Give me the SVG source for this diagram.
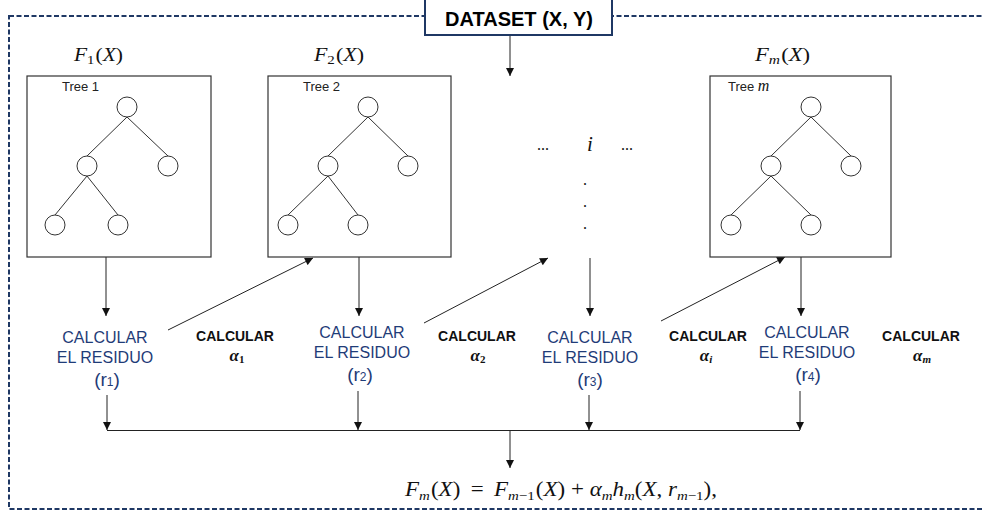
<svg xmlns="http://www.w3.org/2000/svg" width="982" height="512" viewBox="0 0 982 512">
  <style>
    .frame { fill: none; stroke: #1f3864; stroke-width: 2; stroke-dasharray: 5 2.5; }
    .ds-box { fill: #ffffff; stroke: #1f3864; stroke-width: 2; }
    .ds-text { font-family: "Liberation Sans", Arial, sans-serif; font-weight: bold; font-size: 20px; fill: #000; }
    .tree-box { fill: #ffffff; stroke: #333; stroke-width: 1.2; }
    .tnode { fill: #ffffff; stroke: #333; stroke-width: 1; }
    .tedge { stroke: #333; stroke-width: 1; fill: none; }
    .tlabel { font-family: "Liberation Sans", Arial, sans-serif; font-size: 13px; fill: #222; }
    .math { font-family: "Liberation Serif", "Times New Roman", serif; fill: #111; }
    .it { font-style: italic; }
    .res { font-family: "Liberation Sans", Arial, sans-serif; font-size: 16px; fill: #1f3c78; text-anchor: middle; }
    .res-id { font-family: "Liberation Sans", Arial, sans-serif; font-size: 19px; fill: #1f3c78; text-anchor: middle; }
    .alpha-t { font-family: "Liberation Sans", Arial, sans-serif; font-weight: bold; font-size: 14px; fill: #111; text-anchor: middle; }
    .alpha-m { font-family: "Liberation Serif", "Times New Roman", serif; font-weight: bold; font-style: italic; font-size: 17px; fill: #111; text-anchor: middle; }
    .conn { stroke: #222; stroke-width: 1; fill: none; }
    .conn-a { stroke: #222; stroke-width: 1; fill: none; marker-end: url(#arrow); }
    .dots { font-family: "Liberation Serif", "Times New Roman", serif; font-size: 16px; fill: #111; text-anchor: middle; }
  </style>
  <defs>
    <marker id="arrow" viewBox="0 0 10 10" refX="10" refY="5" markerWidth="9" markerHeight="8" markerUnits="userSpaceOnUse" orient="auto">
      <path d="M0,0 L10,5 L0,10 z" fill="#111"/>
    </marker>
    <!-- one decision tree, drawn at the origin of its box -->
    <g id="treeShape">
      <rect class="tree-box" x="0" y="0" width="184" height="181"/>
      <line class="tedge" x1="100" y1="41" x2="60" y2="80"/>
      <line class="tedge" x1="100" y1="41" x2="141" y2="80"/>
      <line class="tedge" x1="60" y1="100" x2="28" y2="139"/>
      <line class="tedge" x1="60" y1="100" x2="91" y2="139"/>
      <circle class="tnode" cx="100" cy="31" r="10"/>
      <circle class="tnode" cx="60" cy="90" r="10"/>
      <circle class="tnode" cx="141" cy="90" r="10"/>
      <circle class="tnode" cx="28" cy="149" r="10"/>
      <circle class="tnode" cx="91" cy="149" r="10"/>
    </g>
  </defs>

  <rect width="982" height="512" fill="#ffffff"/>

  <!-- dashed outer frame -->
  <rect class="frame" x="9" y="16" width="990" height="493"/>

  <!-- connectors -->
  <g id="connectors">
    <line class="conn-a" x1="510" y1="35" x2="510" y2="76"/>
    <line class="conn-a" x1="106" y1="257" x2="106" y2="316"/>
    <line class="conn-a" x1="359" y1="257" x2="359" y2="316"/>
    <line class="conn-a" x1="590" y1="258" x2="590" y2="316"/>
    <line class="conn-a" x1="801" y1="257" x2="801" y2="316"/>
    <line class="conn-a" x1="168" y1="330" x2="313" y2="258"/>
    <line class="conn-a" x1="424" y1="323" x2="548" y2="258"/>
    <line class="conn-a" x1="661" y1="321" x2="785" y2="257"/>
    <line class="conn-a" x1="107" y1="395" x2="107" y2="430"/>
    <line class="conn-a" x1="358" y1="391" x2="358" y2="430"/>
    <line class="conn-a" x1="589" y1="395" x2="589" y2="430"/>
    <line class="conn-a" x1="800" y1="391" x2="800" y2="430"/>
    <line class="conn" x1="107" y1="430.5" x2="800" y2="430.5" stroke-width="1.6"/>
    <line class="conn-a" x1="510" y1="431" x2="510" y2="468"/>
  </g>

  <!-- dataset source -->
  <g id="dataset">
    <rect class="ds-box" x="425" y="-2" width="187" height="37"/>
    <text class="ds-text" x="519" y="26" text-anchor="middle">DATASET (X, Y)</text>
  </g>

  <!-- tree 1 -->
  <g id="tree1">
    <text class="math" x="74" y="61" font-size="19" textLength="49" lengthAdjust="spacingAndGlyphs"><tspan class="it">F</tspan><tspan font-size="13" dy="3">1</tspan><tspan dx="1" dy="-3">(</tspan><tspan class="it">X</tspan><tspan>)</tspan></text>
    <use href="#treeShape" x="27" y="76"/>
    <text class="tlabel" x="62" y="91">Tree 1</text>
  </g>

  <!-- tree 2 -->
  <g id="tree2">
    <text class="math" x="314" y="61" font-size="19" textLength="50" lengthAdjust="spacingAndGlyphs"><tspan class="it">F</tspan><tspan font-size="13" dy="3">2</tspan><tspan dx="1" dy="-3">(</tspan><tspan class="it">X</tspan><tspan>)</tspan></text>
    <rect class="tree-box" x="268" y="76" width="183" height="181"/>
    <line class="tedge" x1="368" y1="117" x2="328" y2="156"/>
    <line class="tedge" x1="368" y1="117" x2="408" y2="156"/>
    <line class="tedge" x1="328" y1="176" x2="288" y2="215"/>
    <line class="tedge" x1="328" y1="176" x2="358" y2="215"/>
    <circle class="tnode" cx="368" cy="107" r="10"/>
    <circle class="tnode" cx="328" cy="166" r="10"/>
    <circle class="tnode" cx="408" cy="166" r="10"/>
    <circle class="tnode" cx="288" cy="225" r="10"/>
    <circle class="tnode" cx="358" cy="225" r="10"/>
    <text class="tlabel" x="303" y="91">Tree 2</text>
  </g>

  <!-- intermediate trees -->
  <g id="tree-i">
    <text class="dots" x="543" y="150">...</text>
    <text class="math it" x="590" y="151" font-size="21" text-anchor="middle">i</text>
    <text class="dots" x="627" y="150">...</text>
    <text class="dots" x="585" y="185">.</text>
    <text class="dots" x="585" y="207">.</text>
    <text class="dots" x="585" y="229">.</text>
  </g>

  <!-- tree m -->
  <g id="treem">
    <text class="math" x="755" y="61" font-size="19" textLength="55" lengthAdjust="spacingAndGlyphs"><tspan class="it">F</tspan><tspan class="it" font-size="13" dy="3">m</tspan><tspan dx="1" dy="-3">(</tspan><tspan class="it">X</tspan><tspan>)</tspan></text>
    <rect class="tree-box" x="710" y="76" width="181" height="181"/>
    <line class="tedge" x1="811" y1="117" x2="771" y2="156"/>
    <line class="tedge" x1="811" y1="117" x2="851" y2="156"/>
    <line class="tedge" x1="771" y1="176" x2="731" y2="215"/>
    <line class="tedge" x1="771" y1="176" x2="811" y2="215"/>
    <circle class="tnode" cx="811" cy="107" r="10"/>
    <circle class="tnode" cx="771" cy="166" r="10"/>
    <circle class="tnode" cx="851" cy="166" r="10"/>
    <circle class="tnode" cx="731" cy="225" r="10"/>
    <circle class="tnode" cx="811" cy="225" r="10"/>
    <text class="tlabel" x="728" y="91">Tree <tspan class="math it" font-size="16">m</tspan></text>
  </g>

  <!-- residual steps -->
  <g id="res1">
    <text class="res" x="105" y="343">CALCULAR</text>
    <text class="res" x="105" y="363">EL RESIDUO</text>
    <text class="res-id" x="107" y="386">(r<tspan font-size="12">1</tspan>)</text>
  </g>
  <g id="res2">
    <text class="res" x="362" y="338">CALCULAR</text>
    <text class="res" x="362" y="358">EL RESIDUO</text>
    <text class="res-id" x="360" y="381">(r<tspan font-size="12">2</tspan>)</text>
  </g>
  <g id="res3">
    <text class="res" x="590" y="343">CALCULAR</text>
    <text class="res" x="590" y="363">EL RESIDUO</text>
    <text class="res-id" x="590" y="386">(r<tspan font-size="12">3</tspan>)</text>
  </g>
  <g id="res4">
    <text class="res" x="807" y="338">CALCULAR</text>
    <text class="res" x="807" y="358">EL RESIDUO</text>
    <text class="res-id" x="808" y="381">(r<tspan font-size="12">4</tspan>)</text>
  </g>

  <!-- weight steps -->
  <g id="alpha1">
    <text class="alpha-t" x="235" y="341">CALCULAR</text>
    <text class="alpha-m" x="237" y="361">α<tspan font-size="11" font-style="normal" dy="2">1</tspan></text>
  </g>
  <g id="alpha2">
    <text class="alpha-t" x="477" y="341">CALCULAR</text>
    <text class="alpha-m" x="478" y="361">α<tspan font-size="11" font-style="normal" dy="2">2</tspan></text>
  </g>
  <g id="alphai">
    <text class="alpha-t" x="708" y="341">CALCULAR</text>
    <text class="alpha-m" x="706" y="361">α<tspan font-size="11" dy="2">i</tspan></text>
  </g>
  <g id="alpham">
    <text class="alpha-t" x="921" y="341">CALCULAR</text>
    <text class="alpha-m" x="922" y="361">α<tspan font-size="11" dy="2">m</tspan></text>
  </g>

  <!-- update rule -->
  <g id="formula">
    <text class="math" x="405" y="496" font-size="20" textLength="312" lengthAdjust="spacingAndGlyphs"><tspan class="it">F</tspan><tspan class="it" font-size="13" dy="4">m</tspan><tspan dx="1" dy="-4">(</tspan><tspan class="it">X</tspan><tspan>)</tspan><tspan dx="9">=</tspan><tspan class="it" dx="9">F</tspan><tspan class="it" font-size="13" dy="4">m</tspan><tspan font-size="13">−1</tspan><tspan dx="1" dy="-4">(</tspan><tspan class="it">X</tspan><tspan>)</tspan><tspan dx="5">+</tspan><tspan class="it" dx="5">α</tspan><tspan class="it" font-size="13" dy="4">m</tspan><tspan class="it" dy="-4">h</tspan><tspan class="it" font-size="13" dy="4">m</tspan><tspan dy="-4">(</tspan><tspan class="it">X</tspan><tspan>,</tspan><tspan class="it" dx="5">r</tspan><tspan class="it" font-size="13" dy="4">m</tspan><tspan font-size="13">−1</tspan><tspan dy="-4">),</tspan></text>
  </g>
</svg>
